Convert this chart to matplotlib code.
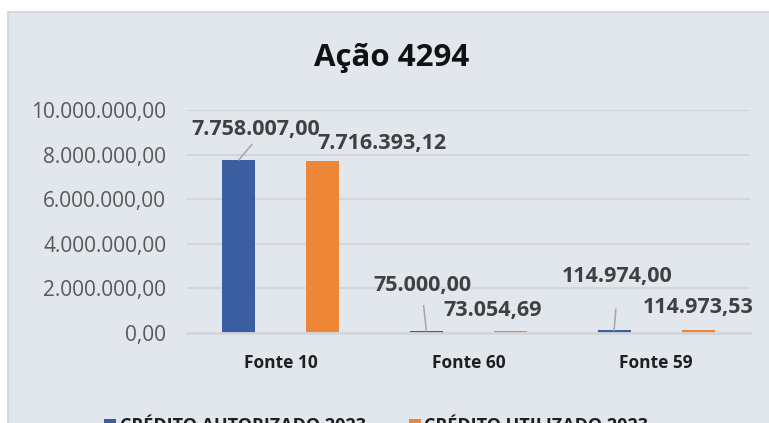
import numpy as np
import matplotlib
matplotlib.use("Agg")
import matplotlib.pyplot as plt
from matplotlib.patches import Rectangle, Patch
from matplotlib.ticker import FuncFormatter, MultipleLocator

plt.rcParams['font.family'] = ['Open Sans', 'DejaVu Sans']

categories = ['Fonte 10', 'Fonte 60', 'Fonte 59']
autorizado = [7758007.00, 75000.00, 114974.00]
utilizado = [7716393.12, 73054.69, 114973.53]
series_names = ['CRÉDITO AUTORIZADO 2023', 'CRÉDITO UTILIZADO 2023']
title = 'Ação 4294'

BLUE = '#3A5E9F'
ORANGE = '#EE8638'
BG = '#E2E6ED'
GRID = '#D3D6DB'

# label offsets in pixels from each bar top, and gap before the leader line
blue_offsets = [(16.5, 30), (-4, 46), (3.5, 54)]
blue_shrink = [1, 5, 14]
orange_offsets = [(59.5, 17), (-18, 21), (0, 23)]


def br_format(v, pos=None):
    s = f"{v:,.2f}"
    return s.replace(",", "X").replace(".", ",").replace("X", ".")


W, H = 769, 423
fig = plt.figure(figsize=(W / 100, H / 100), dpi=100, facecolor='white')

# chart area panel
fig.patches.append(Rectangle((8 / W, -0.01), (W - 8) / W + 0.01, (H - 12) / H + 0.01,
                             transform=fig.transFigure, facecolor=BG,
                             edgecolor='#D6D9DE', linewidth=1.5, zorder=-1))

ax = fig.add_axes([187 / W, (H - 333) / H, (750 - 187) / W, (333 - 110) / H])
ax.set_facecolor('none')

x = np.arange(len(categories))
bw = 0.176
off = 0.224
b1 = ax.bar(x - off, autorizado, bw, color=BLUE, zorder=3)
b2 = ax.bar(x + off, utilizado, bw, color=ORANGE, zorder=3)

ax.set_xlim(-0.5, len(categories) - 0.5)
ax.set_ylim(0, 10000000)
ax.yaxis.set_major_locator(MultipleLocator(2000000))
ax.yaxis.set_major_formatter(FuncFormatter(br_format))
ax.grid(axis='y', color=GRID, linewidth=1.6, zorder=0)
ax.set_axisbelow(True)
# baseline sits over the bars, hiding the smallest ones
ax.axhline(0, color=GRID, linewidth=2.0, zorder=4, clip_on=False)
for s in ax.spines.values():
    s.set_visible(False)
ax.tick_params(axis='both', length=0)
ax.tick_params(axis='y', pad=15, labelsize=15, labelcolor='#595959')
ax.tick_params(axis='x', pad=15, labelsize=12.5, labelcolor='#1F1F1F')
ax.set_xticks(x)
ax.set_xticklabels(categories, fontweight='bold')

for i, rect in enumerate(b1):
    xc = rect.get_x() + rect.get_width() / 2
    ax.annotate(br_format(autorizado[i]), xy=(xc, autorizado[i]),
                xytext=blue_offsets[i], textcoords='offset pixels',
                ha='center', va='center', fontsize=15.5, fontweight='bold',
                color='#404040', zorder=5,
                arrowprops=dict(arrowstyle='-', color='#A6A6A6', lw=1.1,
                                relpos=(0.5, 0),
                                shrinkA=blue_shrink[i], shrinkB=0))
for i, rect in enumerate(b2):
    xc = rect.get_x() + rect.get_width() / 2
    ax.annotate(br_format(utilizado[i]), xy=(xc, utilizado[i]),
                xytext=orange_offsets[i], textcoords='offset pixels',
                ha='center', va='center', fontsize=15.5, fontweight='bold',
                color='#404040', zorder=5)

fig.text(392 / W, (H - 58) / H, title, ha='center', va='center',
         fontsize=22.5, fontweight='bold', color='#111111')

handles = [Patch(facecolor=BLUE), Patch(facecolor=ORANGE)]
fig.legend(handles, series_names, loc='center left',
           bbox_to_anchor=(104 / W, -3 / H), ncol=2, frameon=False,
           borderpad=0, borderaxespad=0, handlelength=0.66, handleheight=0.66,
           handletextpad=0.2, columnspacing=2.4,
           prop={'weight': 'bold', 'size': 13})
for t in fig.legends[0].get_texts():
    t.set_color('#1F1F1F')

fig.savefig('out.png', dpi=100, facecolor='white')
